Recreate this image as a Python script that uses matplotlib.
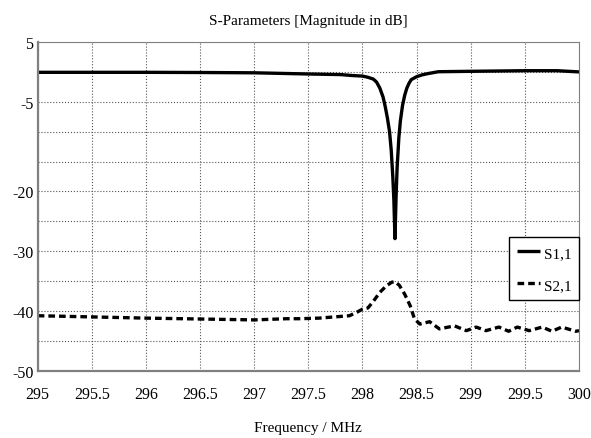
import matplotlib
matplotlib.use('Agg')
import matplotlib.pyplot as plt

# S1,1 (reflection)
s11_freq = [295.0, 295.5, 296.0, 296.5, 297.0, 297.5, 297.8, 297.9, 298.0, 298.05,
            298.1, 298.13, 298.16, 298.19, 298.21, 298.23, 298.25, 298.265, 298.28,
            298.29, 298.3, 298.31, 298.32, 298.336, 298.35, 298.37, 298.39, 298.41,
            298.43, 298.45, 298.5, 298.55, 298.6, 298.7, 299.0, 299.25, 299.5,
            299.8, 300.0]
s11_db = [-0.07, -0.07, -0.07, -0.1, -0.15, -0.35, -0.45, -0.6, -0.7, -0.9,
          -1.2, -1.7, -2.7, -4.2, -5.8, -7.7, -10.0, -13.0, -17.5,
          -21.5, -27.9, -21.0, -16.0, -11.0, -8.2, -5.6, -3.9, -2.7,
          -1.9, -1.3, -0.8, -0.5, -0.3, 0.03, 0.1, 0.15, 0.2,
          0.2, 0.0]

# S2,1 (transmission)
s21_freq = [295.0, 295.5, 296.0, 296.5, 297.0, 297.3, 297.42, 297.6, 297.88, 297.95,
            298.0, 298.05, 298.1, 298.16, 298.22, 298.27, 298.3, 298.34, 298.39,
            298.44, 298.48, 298.53, 298.62, 298.71, 298.85, 298.96, 299.05, 299.14,
            299.26, 299.35, 299.43, 299.54, 299.66, 299.75, 299.84, 299.97, 300.0]
s21_db = [-40.8, -41.0, -41.2, -41.35, -41.5, -41.3, -41.3, -41.2, -40.8, -40.2,
          -39.7, -39.5, -38.4, -36.9, -35.8, -35.2, -35.1, -35.7, -37.2,
          -39.1, -41.3, -42.2, -41.8, -43.0, -42.5, -43.3, -42.7, -43.3,
          -42.7, -43.4, -42.7, -43.3, -42.7, -43.4, -42.7, -43.4, -43.3]

x_ticks = [295, 295.5, 296, 296.5, 297, 297.5, 298, 298.5, 299, 299.5, 300]
x_labels = ['295', '295.5', '296', '296.5', '297', '297.5', '298', '298.5', '299', '299.5', '300']
y_ticks = [5, 0, -5, -10, -15, -20, -25, -30, -35, -40, -45, -50]
y_labels = ['5', '', '-5', '', '', '-20', '', '-30', '', '-40', '', '-50']

plt.rcParams['font.family'] = ['Liberation Serif', 'DejaVu Serif']

fig = plt.figure(figsize = (5.91, 4.39), dpi = 100)
ax = fig.add_axes([0.0638, 0.1533, 0.9159, 0.7487])

ax.plot(s11_freq, s11_db, color = 'black', lw = 2.4, label = 'S1,1',
        solid_joinstyle = 'round', solid_capstyle = 'butt')
ax.plot(s21_freq, s21_db, color = 'black', lw = 2.4, ls = (0, (2.0, 1.2)), label = 'S2,1')

ax.set_xlim(295, 300)
ax.set_ylim(-50, 5)
ax.set_xticks(x_ticks)
ax.set_xticklabels(x_labels)
ax.set_yticks(y_ticks)
ax.set_yticklabels(y_labels)
ax.tick_params(axis = 'x', length = 0, labelsize = 11.5, pad = 11)
ax.tick_params(axis = 'y', length = 0, labelsize = 11.5, pad = 3)

ax.grid(True, color = '#555555', ls = ':', lw = 0.8)
for side in ['left', 'bottom']:
    ax.spines[side].set_color('#808080')
    ax.spines[side].set_linewidth(1.6)
for side in ['top', 'right']:
    ax.spines[side].set_color('#808080')
    ax.spines[side].set_linewidth(0.8)

ax.set_title('S-Parameters [Magnitude in dB]', fontsize = 11, pad = 13)
ax.set_xlabel('Frequency / MHz', fontsize = 11, labelpad = 14)

leg = ax.legend(loc = 'upper right', bbox_to_anchor = (1.0, 0.407), borderaxespad = 0,
                fontsize = 11, fancybox = False, framealpha = 1, edgecolor = 'black',
                handlelength = 1.5, handleheight = 1.1, handletextpad = 0.25,
                borderpad = 0.5, labelspacing = 1.1)
leg.get_frame().set_linewidth(1.0)

fig.savefig('out.png', dpi = 100)
